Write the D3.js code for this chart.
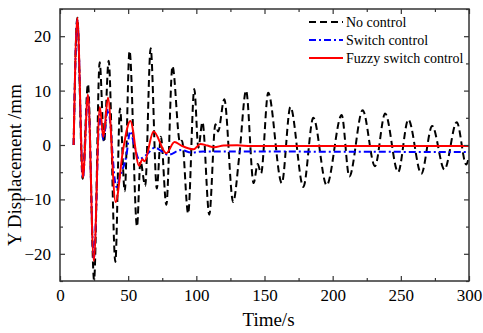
<!DOCTYPE html>
<html><head><meta charset="utf-8">
<script src="https://cdn.jsdelivr.net/npm/d3@7"></script>
<style>body{margin:0;background:#fff}svg{display:block}text{font-family:"Liberation Serif","Times New Roman",serif;fill:#000}</style>
</head><body><svg id="c" width="483" height="333"></svg>
<script>
// time (s) / displacement (mm) turning points
const noControlT = [10,12.7,16.6,20.5,25,29.1,32.3,35.7,40.6,44,47.5,51,56.5,59,62.5,66.5,71,74,78,82.5,88,89.5,94,98.5,101.5,104.5,109.5,114,116,120.5,127,131.5,136.5,142,145,147.5,152.7,162.7,169,178.5,185.8,195.6,206.6,212.2,222,231,238.5,248,255.5,265,273,282,291,298,300];
const noControlV = [0,23.4,-6.2,11.2,-24.8,15.2,0.5,15.5,-21.5,6.7,-8.5,17.3,-15,-3,-7.5,17.8,-8,1.5,-11,14.5,0.5,0.8,-12.6,10.3,-0.5,4.2,-12.8,3.8,2.5,8.4,-10.5,-2,10,-7,-3.5,-5.2,9.6,-7,7,-7.7,5,-7.4,5.5,-5.8,6.4,-3.9,5.8,-5,4.7,-5.3,3.5,-4.5,4.2,-3.6,-2];
const switchT = [10,12.7,16.8,20.5,24.8,29.2,31.8,35.2,41.3,43.8,48.7,51.5,54.8,58,63,69.5,79.5,89,96,105,300];
const switchV = [0,23,-6,9,-20.8,5.6,1.0,6.6,-7.7,-5.9,-1.9,2.5,-0.4,-2.6,-1.9,-0.5,-1.8,-0.9,-1.4,-1.2,-1.3];
const fuzzyT = [10,12.7,16.8,20.5,24.8,29.2,31.8,35.2,40.8,46.2,51.6,58,60.5,62,68.6,78,84,89,98,103,108,113,120,130,140,300];
const fuzzyV = [0,23.4,-6,9.3,-21.3,7.0,1.5,8.7,-10.5,-1,4.4,-3.8,-2.6,-3.0,2.5,-1.5,0.55,-0.1,-0.8,0.2,-0.1,-0.4,-0.1,-0.05,-0.2,-0.2];
const seriesNames = ["No control","Switch control","Fuzzy switch control"];
const xTicks = [0,50,100,150,200,250,300];
const xMinor = [25,75,125,175,225,275];
const yTicks = [-20,-10,0,10,20];
const yMinor = [-25,-15,-5,5,15,25];

const svg = d3.select("#c");
const m = {l:60, r:469, t:9, b:281};
const x = d3.scaleLinear().domain([0,300]).range([m.l,m.r]);
const y = d3.scaleLinear().domain([-25,25]).range([m.b,m.t]);

const clip = svg.append("clipPath").attr("id","pc").append("rect")
  .attr("x",m.l).attr("y",m.t).attr("width",m.r-m.l).attr("height",m.b-m.t);

const line = d3.line().x(d=>x(d[0])).y(d=>y(d[1])).curve(d3.curveMonotoneX);
const zip = (a,b)=>a.map((t,i)=>[t,b[i]]);
const series = [
  {name:seriesNames[0], data:zip(noControlT,noControlV), color:"#000", dash:"7,4", w:2},
  {name:seriesNames[1], data:zip(switchT,switchV), color:"#0000ff", dash:"7,3,2,3", w:2},
  {name:seriesNames[2], data:zip(fuzzyT,fuzzyV), color:"#ff0000", dash:null, w:2}
];
const g = svg.append("g").attr("clip-path","url(#pc)");
series.forEach(s=>{
  g.append("path").attr("d",line(s.data)).attr("fill","none")
   .attr("stroke",s.color).attr("stroke-width",s.w)
   .attr("stroke-dasharray",s.dash);
});

// axes (ticks inward, mirrored)
const frameColor = "#333";
function axisTicks(axis, pos, vals, len, labels){
  const a = axis(x===null?null:(axis===d3.axisBottom||axis===d3.axisTop?x:y));
}
const mk = (gen, scale, vals, len, lab) => gen(scale).tickValues(vals).tickSizeInner(-len).tickSizeOuter(0).tickPadding(lab?8:0).tickFormat(lab?d3.format("d"):"");
function drawAxis(gen, scale, transform, major, minor, lab){
  const ga = svg.append("g").attr("transform",transform).call(mk(gen,scale,major,5,lab));
  svg.append("g").attr("transform",transform).call(mk(gen,scale,minor,3,false));
  return ga;
}
const bx = drawAxis(d3.axisBottom, x, `translate(0,${m.b})`, xTicks, xMinor, true);
drawAxis(d3.axisTop, x, `translate(0,${m.t})`, xTicks, xMinor, false);
const ly = drawAxis(d3.axisLeft, y, `translate(${m.l},0)`, yTicks, yMinor, true);
drawAxis(d3.axisRight, y, `translate(${m.r},0)`, yTicks, yMinor, false);
svg.selectAll(".domain").remove();
svg.selectAll(".tick line").attr("stroke",frameColor).attr("stroke-width",1.2);
svg.selectAll(".tick text").attr("font-size",17).attr("font-family","Liberation Serif").attr("fill","#000");
ly.selectAll(".tick text").attr("dx",-1);
svg.append("rect").attr("x",m.l).attr("y",m.t).attr("width",m.r-m.l).attr("height",m.b-m.t)
  .attr("fill","none").attr("stroke",frameColor).attr("stroke-width",1.5);

svg.append("text").attr("x",(m.l+m.r)/2+4).attr("y",326).attr("text-anchor","middle")
  .attr("font-size",19).text("Time/s");
svg.append("text").attr("transform",`translate(21,${165}) rotate(-90)`).attr("text-anchor","middle")
  .attr("font-size",19).text("Y Displacement /mm");

// legend
const leg = svg.append("g");
series.forEach((s,i)=>{
  const yy = 22 + i*18;
  leg.append("line").attr("x1",309).attr("x2",343).attr("y1",yy).attr("y2",yy)
    .attr("stroke",s.color).attr("stroke-width",s.w).attr("stroke-dasharray",s.dash);
  leg.append("text").attr("x",346).attr("y",yy+4.5).attr("font-size",14).text(s.name);
});
</script></body></html>
